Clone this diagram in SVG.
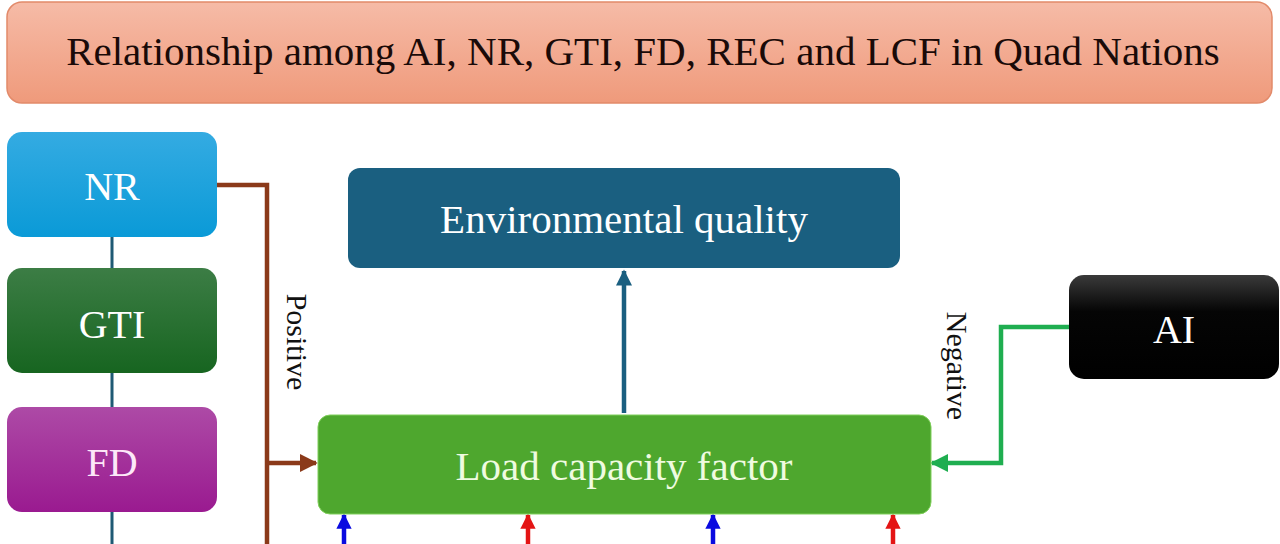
<svg xmlns="http://www.w3.org/2000/svg" width="1280" height="544" viewBox="0 0 1280 544">
<defs>
<linearGradient id="gTitle" x1="0" y1="0" x2="0" y2="1"><stop offset="0" stop-color="#f6bba7"/><stop offset="1" stop-color="#ef9a7b"/></linearGradient>
<linearGradient id="gNR" x1="0" y1="0" x2="0" y2="1"><stop offset="0" stop-color="#34abe2"/><stop offset="1" stop-color="#0a9ad7"/></linearGradient>
<linearGradient id="gGTI" x1="0" y1="0" x2="0" y2="1"><stop offset="0" stop-color="#3c7d45"/><stop offset="1" stop-color="#176520"/></linearGradient>
<linearGradient id="gFD" x1="0" y1="0" x2="0" y2="1"><stop offset="0" stop-color="#ad4aa6"/><stop offset="1" stop-color="#9a1a90"/></linearGradient>
<linearGradient id="gAI" x1="0" y1="0" x2="0" y2="1"><stop offset="0" stop-color="#3a3a3a"/><stop offset="0.35" stop-color="#050505"/><stop offset="1" stop-color="#000"/></linearGradient>
<marker id="aBrown" viewBox="0 0 10 10" refX="9" refY="5" markerWidth="4" markerHeight="4" orient="auto" markerUnits="strokeWidth"><path d="M0,0 L10,5 L0,10 z" fill="#8b3a1a"/></marker>
<marker id="aTeal" viewBox="0 0 10 10" refX="9" refY="5" markerWidth="3.6" markerHeight="3.6" orient="auto" markerUnits="strokeWidth"><path d="M0,0 L10,5 L0,10 z" fill="#1a5f80"/></marker>
<marker id="aGreen" viewBox="0 0 10 10" refX="9" refY="5" markerWidth="4" markerHeight="4" orient="auto" markerUnits="strokeWidth"><path d="M0,0 L10,5 L0,10 z" fill="#1fae50"/></marker>
<marker id="aBlue" viewBox="0 0 10 10" refX="9" refY="5" markerWidth="3.4" markerHeight="3.4" orient="auto" markerUnits="strokeWidth"><path d="M0,0 L10,5 L0,10 z" fill="#0a0ae0"/></marker>
<marker id="aRed" viewBox="0 0 10 10" refX="9" refY="5" markerWidth="3.4" markerHeight="3.4" orient="auto" markerUnits="strokeWidth"><path d="M0,0 L10,5 L0,10 z" fill="#e41414"/></marker>
</defs>
<style>
text{font-family:"Liberation Serif","Times New Roman",serif;text-anchor:middle}
.lbl{font-size:40px;fill:#ffffff}
.big{font-size:41px}
.conn{fill:none;stroke-width:4.5}
.side{font-size:30px;fill:#111}
</style>
<g id="connectors">
<path d="M112,237 V544" stroke="#1f5a74" stroke-width="3" fill="none"/>
<path class="conn" d="M217,185 H267 V544" stroke="#8b3a1a"/>
<path class="conn" d="M267,463 H316" stroke="#8b3a1a" marker-end="url(#aBrown)"/>
<path class="conn" d="M624,413 V271" stroke="#1a5f80" stroke-width="5" marker-end="url(#aTeal)"/>
<path class="conn" d="M1069,327 H1001 V463 H932" stroke="#1fae50" marker-end="url(#aGreen)"/>
<path class="conn" d="M344,544 V515" stroke="#0a0ae0" marker-end="url(#aBlue)"/>
<path class="conn" d="M528,544 V515" stroke="#e41414" marker-end="url(#aRed)"/>
<path class="conn" d="M713,544 V515" stroke="#0a0ae0" marker-end="url(#aBlue)"/>
<path class="conn" d="M893,544 V515" stroke="#e41414" marker-end="url(#aRed)"/>
<text class="side" x="0" y="0" transform="translate(287,342) rotate(90)">Positive</text>
<text class="side" x="0" y="0" transform="translate(947,366) rotate(90)">Negative</text>
</g>
<g id="title">
<rect x="7" y="2" width="1265" height="101" rx="15" fill="url(#gTitle)" stroke="#e28a6a" stroke-width="1.5"/>
<text x="643" y="65" style="font-size:41px;fill:#1a0a08">Relationship among AI, NR, GTI, FD, REC and LCF in Quad Nations</text>
</g>
<g id="NR">
<rect x="7" y="132" width="210" height="105" rx="15" fill="url(#gNR)"/>
<text class="lbl" x="112" y="200">NR</text>
</g>
<g id="GTI">
<rect x="7" y="268" width="210" height="105" rx="15" fill="url(#gGTI)"/>
<text class="lbl" x="112" y="338">GTI</text>
</g>
<g id="FD">
<rect x="7" y="407" width="210" height="105" rx="15" fill="url(#gFD)"/>
<text class="lbl" x="112" y="476" style="fill:#fde8f8">FD</text>
</g>
<g id="EQ">
<rect x="348" y="168" width="552" height="100" rx="12" fill="#1a5f80"/>
<text class="lbl big" x="624" y="233">Environmental quality</text>
</g>
<g id="LCF">
<rect x="318" y="415" width="613" height="99" rx="12" fill="#4ea72e" stroke="#7fcf5a" stroke-width="1"/>
<text class="lbl big" x="624" y="480" style="fill:#effbe0">Load capacity factor</text>
</g>
<g id="AI">
<rect x="1069" y="275" width="210" height="104" rx="15" fill="url(#gAI)"/>
<text class="lbl" x="1174" y="343">AI</text>
</g>
</svg>
